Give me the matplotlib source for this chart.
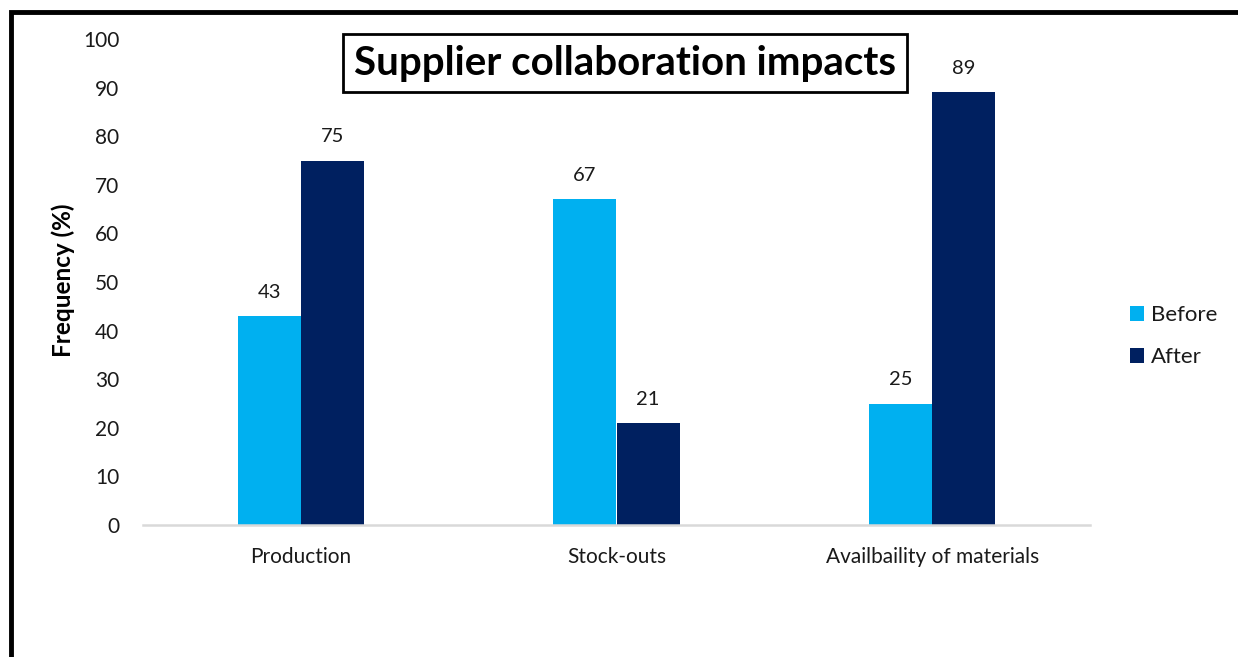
import matplotlib
matplotlib.use("Agg")
import matplotlib.pyplot as plt
import numpy as np
from matplotlib.patches import Rectangle

categories = ["Production", "Stock-outs", "Availbaility of materials"]
before = [43, 67, 25]
after = [75, 21, 89]
series_names = ["Before", "After"]
yticks = [0, 10, 20, 30, 40, 50, 60, 70, 80, 90, 100]

plt.rcParams['font.family'] = ['Lato', 'DejaVu Sans']

W, H = 1238, 657
fig = plt.figure(figsize=(W/100, H/100), dpi=100)
ax = fig.add_axes([143/W, 1-525/H, (1090-143)/W, (525-39)/H])

x = np.arange(len(categories))
w = 0.2
c_before = "#00B0F0"
c_after = "#002060"
b1 = ax.bar(x - w/2, before, w, color=c_before, label=series_names[0])
b2 = ax.bar(x + w/2, after, w, color=c_after, label=series_names[1])

for bars in (b1, b2):
    for r in bars:
        ax.annotate(f"{r.get_height():g}", (r.get_x() + r.get_width()/2, r.get_height()),
                    xytext=(0, 11), textcoords="offset points", ha="center", va="bottom",
                    fontsize=14.5, color="#1a1a1a")

ax.set_xlim(-0.5, 2.5)
ax.set_ylim(0, 100)
ax.set_yticks(yticks)
ax.set_xticks(x)
ax.set_xticklabels(categories, fontsize=15, color="#1a1a1a")
ax.tick_params(axis='y', labelsize=15, colors="#1a1a1a", length=0, pad=17)
ax.tick_params(axis='x', length=0, pad=16)
for s in ["top", "right", "left"]:
    ax.spines[s].set_visible(False)
ax.spines["bottom"].set_color("#D9D9D9")
ax.spines["bottom"].set_linewidth(1.8)

fig.text(63/W, 1-280/H, "Frequency (%)", rotation=90, ha="center", va="center",
         fontsize=17.5, fontweight="bold", color="black")

fig.text(625/W, 1-63/H, "Supplier collaboration impacts", ha="center", va="center",
         fontsize=29, fontweight="bold", color="black",
         bbox=dict(boxstyle="square,pad=0.27", facecolor="white", edgecolor="black", linewidth=2))

leg = fig.legend(handles=[b1, b2], labels=series_names, loc="center left",
                 bbox_to_anchor=(1110/W, 1-336/H), frameon=False, fontsize=16,
                 handlelength=0.65, handleheight=0.65, handletextpad=0.3, labelspacing=1.0)
for t in leg.get_texts():
    t.set_color("#1a1a1a")

fig.patches.append(Rectangle((11/W, -0.1), 1.2, 1.1 - 12/H, transform=fig.transFigure,
                             fill=False, edgecolor="black", linewidth=3.5))

fig.savefig("out.png", dpi=100)
